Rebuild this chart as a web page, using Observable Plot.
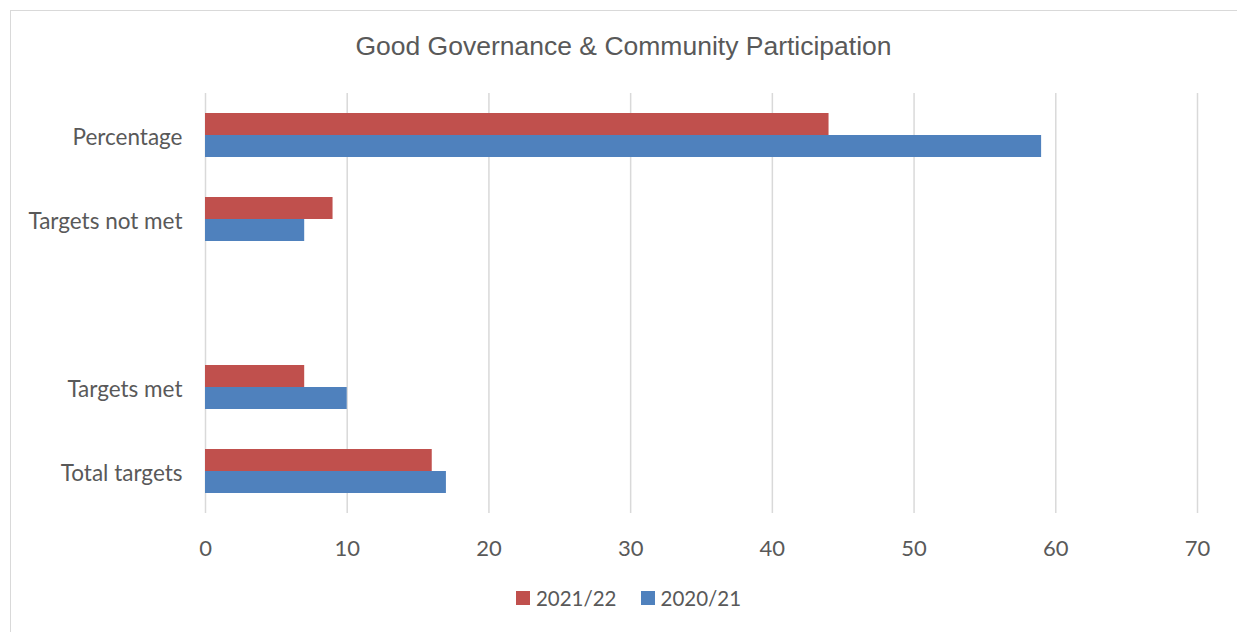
<!DOCTYPE html>
<html>
<head>
<meta charset="utf-8">
<script src="https://cdn.jsdelivr.net/npm/d3@7"></script>
<script src="https://cdn.jsdelivr.net/npm/@observablehq/plot@0.6"></script>
<style>
  html, body { margin: 0; padding: 0; background: #fff; }
  #wrap { position: relative; width: 1237px; height: 632px; overflow: hidden; }
  #frame { position: absolute; left: 10px; top: 10px; width: 1300px; height: 700px; border: 1.5px solid #d9d9d9; box-sizing: border-box; }
  #title { position: absolute; left: 10px; width: 1227px; top: 31px; text-align: center; font-family: "Liberation Sans", Arial, sans-serif; font-size: 26.5px; color: #595959; line-height: 30px; }
  #chart { position: absolute; left: 0; top: 93px; }
  #legend { position: absolute; left: 0; top: 586px; width: 1257px; display: flex; justify-content: center; gap: 24px; font-family: Lato, sans-serif; font-size: 20.5px; color: #595959; }
  .item { display: flex; align-items: center; gap: 6px; }
  .sw { width: 14px; height: 14px; display: inline-block; }
</style>
</head>
<body>
<div id="wrap">
  <div id="frame"></div>
  <div id="title"></div>
  <div id="chart"></div>
  <div id="legend"></div>
</div>
<script>
const title = "Good Governance & Community Participation";
const categories = ["Total targets", "Targets met", "", "Targets not met", "Percentage"];
const seriesNames = ["2021/22", "2020/21"];
const values2021 = [16, 7, null, 9, 44];
const values2020 = [17, 10, null, 7, 59];
const xTicks = [0, 10, 20, 30, 40, 50, 60, 70];
const colors = ["#C0504D", "#4F81BD"];

document.getElementById("title").textContent = title;

const rows = categories.map((c, i) => ({cat: c, a: values2021[i], b: values2020[i]}));
const rowsA = rows.filter(d => d.a != null);
const rowsB = rows.filter(d => d.b != null);

const plot = Plot.plot({
  width: 1237,
  height: 477,
  marginLeft: 205,
  marginRight: 40,
  marginTop: 0,
  marginBottom: 57,
  style: {fontFamily: "Lato, sans-serif", fontSize: "22px", color: "#595959", background: "transparent"},
  x: {domain: [0, 70], ticks: xTicks, label: null},
  y: {domain: categories.slice().reverse(), paddingInner: 0.476, paddingOuter: 0.238, label: null},
  marks: [
    Plot.ruleX(xTicks, {stroke: "#d9d9d9", strokeWidth: 1.5}),
    Plot.barX(rowsA, {x: "a", y: "cat", fill: colors[0], insetBottom: 22}),
    Plot.barX(rowsB, {x: "b", y: "cat", fill: colors[1], insetTop: 22}),
    Plot.axisX({ticks: xTicks, tickSize: 0, tickPadding: 27, label: null, fill: "#595959", fontSize: 22}),
    Plot.axisY({tickSize: 0, tickPadding: 23, dy: 2.5, label: null, fill: "#595959", fontSize: 22.5})
  ]
});
document.getElementById("chart").appendChild(plot);

const legend = document.getElementById("legend");
seriesNames.forEach((s, i) => {
  const it = document.createElement("div");
  it.className = "item";
  const sw = document.createElement("span");
  sw.className = "sw";
  sw.style.background = colors[i];
  const t = document.createElement("span");
  t.textContent = s;
  it.appendChild(sw); it.appendChild(t);
  legend.appendChild(it);
});
</script>
</body>
</html>
